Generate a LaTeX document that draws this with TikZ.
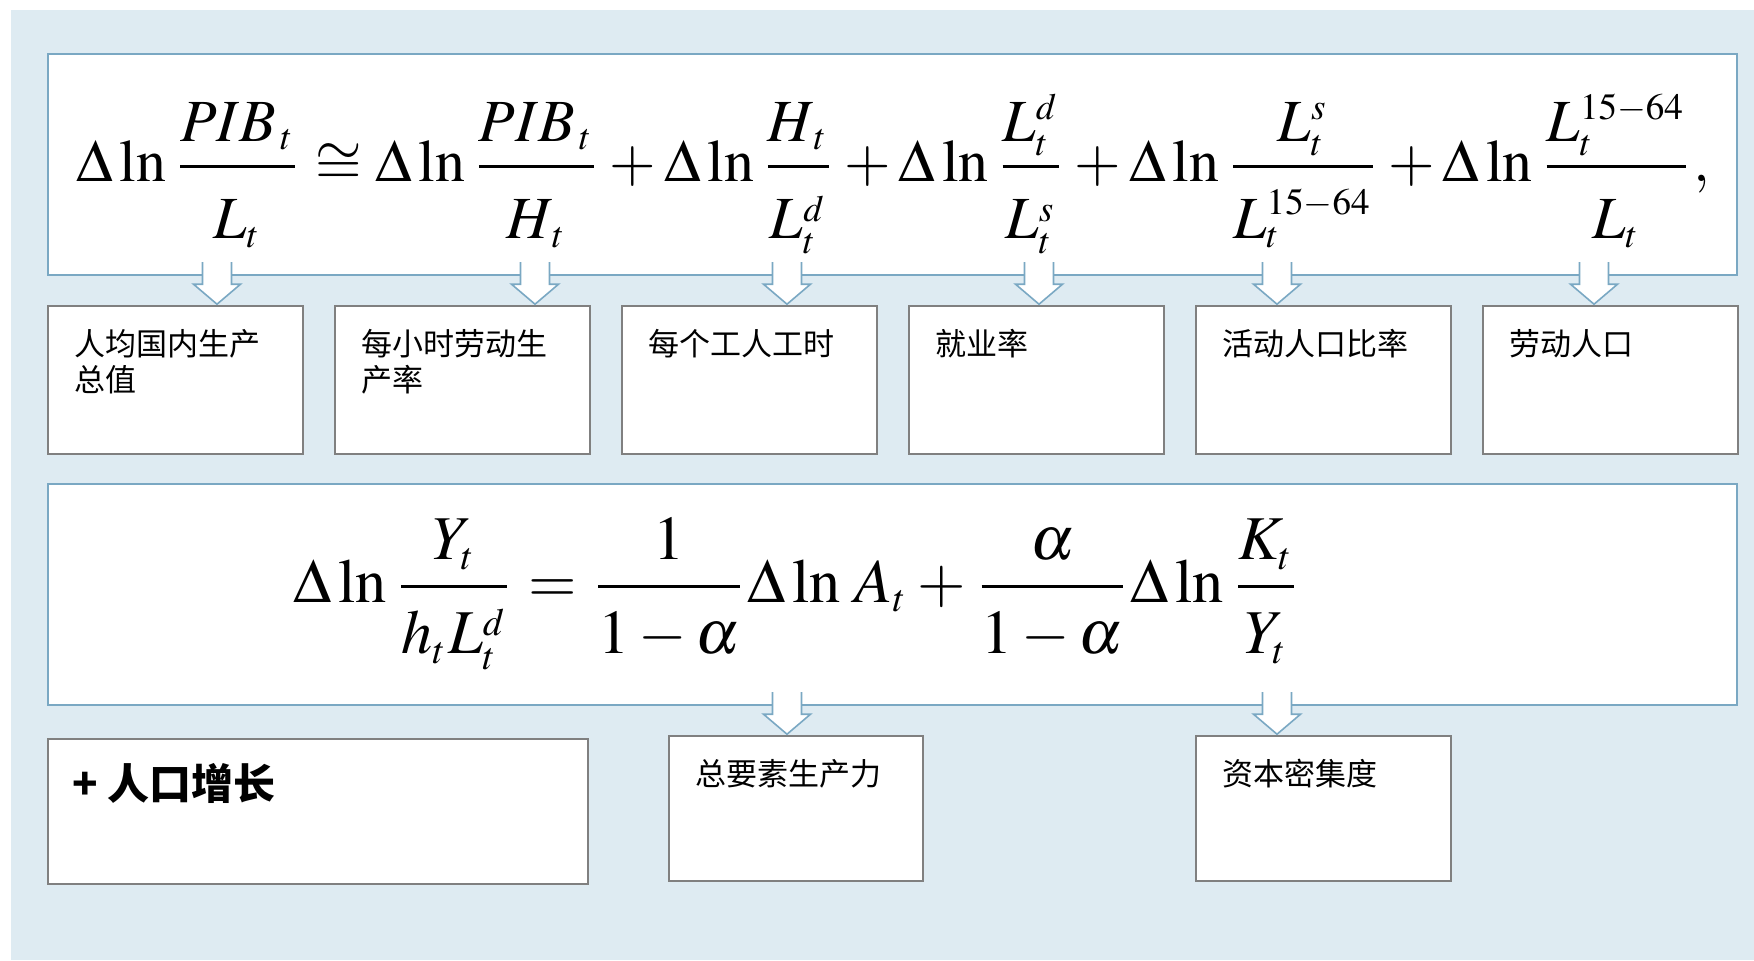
\documentclass[tikz,border=0pt]{standalone}
\usepackage{mathptmx}
\usepackage[no-math]{fontspec}
\setmainfont{Liberation Serif}
\newfontfamily\cjk{Noto Sans CJK SC}
\usetikzlibrary{calc}
\DeclareMathSizes{10}{10}{6.2}{5}
\definecolor{bgblue}{RGB}{222,235,242}
\definecolor{boxblue}{RGB}{122,168,195}
\definecolor{boxgray}{RGB}{128,128,128}
\tikzset{
  bigbox/.style={draw=boxblue,line width=1.1pt,fill=white,inner sep=0pt,anchor=north west,minimum width=844.5pt,minimum height=110.5pt},
  smallbox/.style={draw=boxgray,line width=1.1pt,fill=white,inner sep=0pt,anchor=north west,minimum height=74pt},
  lbl/.style={anchor=north west,inner sep=0pt,align=left,font=\cjk\fontsize{15.5}{18}\selectfont},
  biglbl/.style={anchor=north west,inner sep=0pt,align=left,font=\cjk\bfseries\fontsize{21}{24}\selectfont},
  arrowline/.style={draw=boxblue,line width=0.8pt,line join=miter},
  eqnode/.style={anchor=base west,inner sep=0pt},
}
\newcommand\dst{\rule{0pt}{10.6pt}}
\newcommand\dsb{\rule{0pt}{9.4pt}}
\newcommand\hollowarrow[2]{%
  \fill[white,shift={(#1|-#2.south)}] (-14.5,-14) -- (-14.5,8) -- (-23.5,8) -- (0,28) -- (23.5,8) -- (14.5,8) -- (14.5,-14) -- cycle;
  \draw[arrowline,shift={(#1|-#2.south)}] (-14.5,-14) -- (-14.5,8) -- (-23.5,8) -- (0,28) -- (23.5,8) -- (14.5,8) -- (14.5,-14);
}
\begin{document}
\begin{tikzpicture}[x=0.5pt,y=-0.5pt]
\useasboundingbox (0,0) rectangle (1754,960);
\fill[bgblue] (11,10) rectangle (1754,960);
% top formula box
\node[bigbox] (T) at (47,53) {};
\node[eqnode] (eq1) at (76,181.5) {\resizebox{816.5pt}{!}{$\displaystyle
 \Delta\ln\frac{PIB_{\,t}}{\dst L_t}\cong\Delta\ln\frac{PIB_{\,t}}{\dst H_{\,t}}+\Delta\ln\frac{H_{\,t}}{\dst L_t^d}+\Delta\ln\frac{L_t^d}{\dst L_t^s}+\Delta\ln\frac{L_t^s}{\dst L_t^{15-64}}+\Delta\ln\frac{L_t^{15-64}}{\dst L_t},$}};
% row of boxes
\node[smallbox,minimum width=127.5pt] (b1) at (47,305) {};
\node[smallbox,minimum width=127.5pt] (b2) at (334,305) {};
\node[smallbox,minimum width=127.5pt] (b3) at (621,305) {};
\node[smallbox,minimum width=127.5pt] (b4) at (908,305) {};
\node[smallbox,minimum width=127.5pt] (b5) at (1195,305) {};
\node[smallbox,minimum width=127.5pt] (b6) at (1482,305) {};
\node[lbl] (t1) at ($(b1.north west)+(27,24)$) {人均国内生产\\总值};
\node[lbl] (t2) at ($(b2.north west)+(27,24)$) {每小时劳动生\\产率};
\node[lbl] (t3) at ($(b3.north west)+(27,24)$) {每个工人工时};
\node[lbl] (t4) at ($(b4.north west)+(27,24)$) {就业率};
\node[lbl] (t5) at ($(b5.north west)+(27,24)$) {活动人口比率};
\node[lbl] (t6) at ($(b6.north west)+(27,24)$) {劳动人口};
% second formula box
\node[bigbox] (M) at (47,483) {};
\node[eqnode] (eq2) at (293,602) {\resizebox{504pt}{!}{$\displaystyle
 \Delta\ln\frac{Y_t}{\dsb h_tL_t^d}=\frac{1}{\dsb 1-\alpha}\Delta\ln\,A_t+\frac{\alpha}{\dsb 1-\alpha}\Delta\ln\frac{K_t}{\dsb Y_t}$}};
% bottom boxes
\node[smallbox,minimum width=270pt,minimum height=72.5pt] (c1) at (47,738) {};
\node[smallbox,minimum width=127pt,minimum height=72.5pt] (c2) at (668,735) {};
\node[smallbox,minimum width=127.5pt,minimum height=72.5pt] (c3) at (1195,735) {};
\node[biglbl] (u1) at ($(c1.north west)+(25,25)$) {+ 人口增长};
\node[lbl] (u2) at ($(c2.north west)+(27,24)$) {总要素生产力};
\node[lbl] (u3) at ($(c3.north west)+(27,24)$) {资本密集度};
% arrows
\coordinate (x1) at (217,0);
\coordinate (x2) at (535,0);
\coordinate (x3) at (787,0);
\coordinate (x4) at (1039,0);
\coordinate (x5) at (1277,0);
\coordinate (x6) at (1594,0);
\coordinate (y1) at (787,0);
\coordinate (y2) at (1277,0);
\hollowarrow{x1}{T}
\hollowarrow{x2}{T}
\hollowarrow{x3}{T}
\hollowarrow{x4}{T}
\hollowarrow{x5}{T}
\hollowarrow{x6}{T}
\hollowarrow{y1}{M}
\hollowarrow{y2}{M}
\end{tikzpicture}
\end{document}
